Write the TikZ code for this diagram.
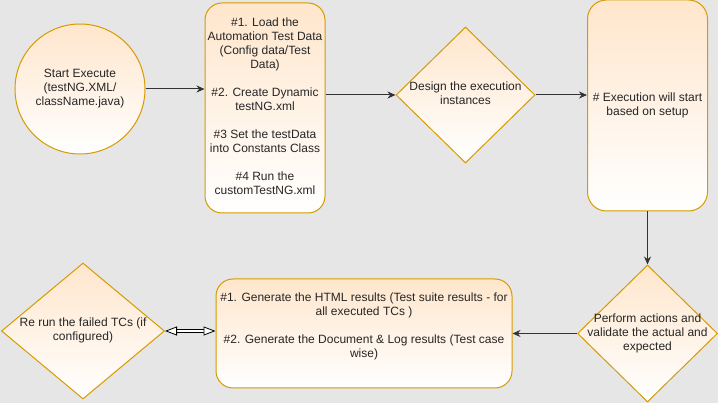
\documentclass[tikz,border=0pt]{standalone}
\usepackage{fontspec}
\setmainfont{Liberation Sans}
\usetikzlibrary{shapes.geometric,arrows.meta}
\definecolor{canvas}{HTML}{E6E6E6}
\definecolor{boxfill}{HTML}{FFE6CC}
\definecolor{boxline}{HTML}{D79B00}
\definecolor{linkgray}{HTML}{333333}

\begin{document}
\begin{tikzpicture}[x=1pt,y=-1pt]
        \tikzstyle{every node}=[draw=boxline, top color=boxfill, bottom color=white, line width=1pt, inner sep=0pt, font=\fontsize{12}{14}\selectfont, text=black!85]
        \tikzstyle{block}=[rectangle, rounded corners=17pt]
        \tikzstyle{decision}=[diamond]
        \tikzstyle{edge}=[linkgray, line width=1pt, -{Stealth[length=8pt,width=7pt]}]

        \fill[canvas] (0,0) rectangle (718,403);
        \useasboundingbox (0,0) rectangle (718,403);

        \node[circle, minimum size=130pt] (start) at (80,89) {\begin{tabular}{@{}c@{}} Start Execute \\ (testNG.XML/ \\ className.java) \end{tabular}};
        \node[block, minimum width=120pt, minimum height=210pt] (load) at (265,108) {\begin{tabular}{@{}c@{}} \#1. Load the \\ Automation Test Data \\ (Config data/Test \\ Data) \\ \\ \#2. Create Dynamic \\ testNG.xml \\ \\ \#3 Set the testData \\ into Constants Class \\ \\ \#4 Run the \\ customTestNG.xml \end{tabular}};
        \node[decision, minimum width=139pt, minimum height=136pt] (design) at (465.5,95) {\makebox[0pt]{\begin{tabular}{@{}c@{}} Design the execution \\ instances \end{tabular}}};
        \node[block, rounded corners=19pt, minimum width=120pt, minimum height=211pt] (exec) at (647.5,105.5) {\begin{tabular}{@{}c@{}} \# Execution will start \\ based on setup \end{tabular}};

        \node[decision, minimum width=140pt, minimum height=137pt] (perform) at (647.5,333.5) {\makebox[0pt]{\begin{tabular}{@{}c@{}} Perform actions and \\ validate the actual and \\ expected \end{tabular}}};
        \node[block, minimum width=296pt, minimum height=109pt] (report) at (364,333.5) {\begin{tabular}{@{}c@{}} \#1. Generate the HTML results (Test suite results - for \\ all executed TCs ) \\ \\ \#2. Generate the Document \& Log results (Test case \\ wise) \\ \\ \end{tabular}};
        \node[decision, minimum width=163pt, minimum height=136pt] (rerun) at (83,331) {\makebox[0pt]{\begin{tabular}{@{}c@{}} Re run the failed TCs (if \\ configured) \end{tabular}}};

        \draw[edge] (start.east) -- (start.east -| load.west);
        \draw[edge] (load.east |- design.west) -- (design.west);
        \draw[edge] (design.east) -- (design.east -| exec.west);
        \draw[edge] (exec.south) -- (perform.north);
        \draw[edge] (perform.west) -- (perform.west -| report.east);

        \tikzstyle{edge}=[black, line width=0.8pt, double=white, double distance=2.2pt, {Triangle[length=12pt,width=9pt,fill=white]}-{Triangle[length=12pt,width=9pt,fill=white]}]
        \draw[edge] (rerun.east) -- (rerun.east -| report.west);
\end{tikzpicture}
\end{document}
